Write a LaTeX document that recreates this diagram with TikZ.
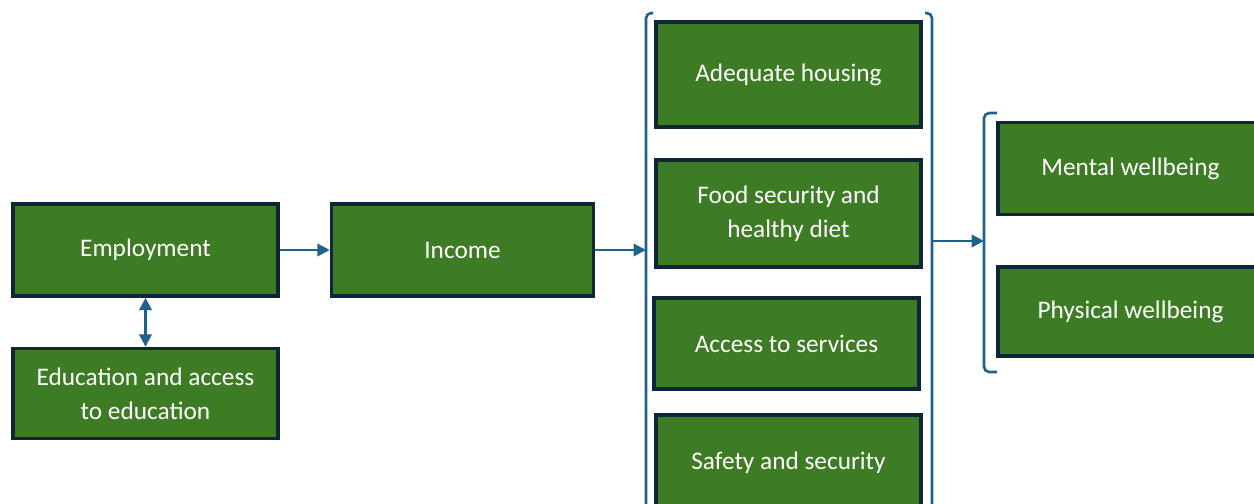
\documentclass[tikz,border=0pt]{standalone}
\usepackage{fontspec}
\setmainfont{Carlito}
\usepackage{tikz}
\usetikzlibrary{positioning,arrows.meta}
\definecolor{boxgreen}{RGB}{61,123,36}
\definecolor{boxline}{RGB}{14,38,56}
\definecolor{linkblue}{RGB}{30,98,138}
\tikzstyle{factor} = [draw=boxline, fill=boxgreen, line width=2pt,
    rectangle, text=white, minimum width=5.3cm, minimum height=1.84cm,
    align=center, font=\fontsize{14.4}{19.5}\selectfont, inner sep=2pt]
\tikzstyle{link} = [draw=linkblue, line width=1.4pt,
    -{Triangle[length=7pt,width=7pt]}]
\tikzstyle{bracket} = [draw=linkblue, line width=1.5pt, rounded corners=3pt]

\begin{document}
\begin{tikzpicture}
\useasboundingbox (0,0) rectangle (25.08,-10.06);
\clip (0,0) rectangle (25.08,-10.06);

% left column
\node [factor] (employ) at (2.91,-5.0) {Employment};
\node [factor, minimum height=1.8cm, below=0.98cm of employ] (educ)
    {Education and access\\to education};
\node [factor, minimum width=5.24cm, right=1.0cm of employ] (income) {Income};

% middle column
\node [factor, minimum height=2.1cm] (housing) at (15.77,-1.49) {Adequate housing};
\node [factor, minimum height=2.14cm] (food) at (15.77,-4.27)
    {Food security and\\healthy diet};
\node [factor, minimum height=1.82cm] (access) at (15.73,-6.87) {Access to services};
\node [factor, minimum height=1.9cm] (safety) at (15.77,-9.25) {Safety and security};

% right column
\node [factor] (mental) at (22.61,-3.37) {Mental wellbeing};
\node [factor, minimum height=1.78cm] (physical) at (22.61,-6.23) {Physical wellbeing};

% brackets
\coordinate (brLtop) at (12.92,-0.26);
\coordinate (brRtop) at (18.64,-0.26);
\coordinate (brOtop) at (19.68,-2.26);
\draw [bracket] ([xshift=0.14cm]brLtop) -- (brLtop) -- ++(0,-10.2);
\draw [bracket] ([xshift=-0.14cm]brRtop) -- (brRtop) -- ++(0,-10.2);
\draw [bracket] ([xshift=0.26cm]brOtop) -- (brOtop) -- ++(0,-5.18) -- ++(0.26,0);

% links
\draw [link] (employ.east) -- (income.west);
\draw [link] (income.east) -- (brLtop |- income.east);
\draw [link] (brRtop |- 0,-4.82) -- (brOtop |- 0,-4.82);
\draw [link, {Triangle[length=7pt,width=7pt]}-{Triangle[length=7pt,width=7pt]}]
    (employ.south) -- (educ.north);

\end{tikzpicture}
\end{document}
